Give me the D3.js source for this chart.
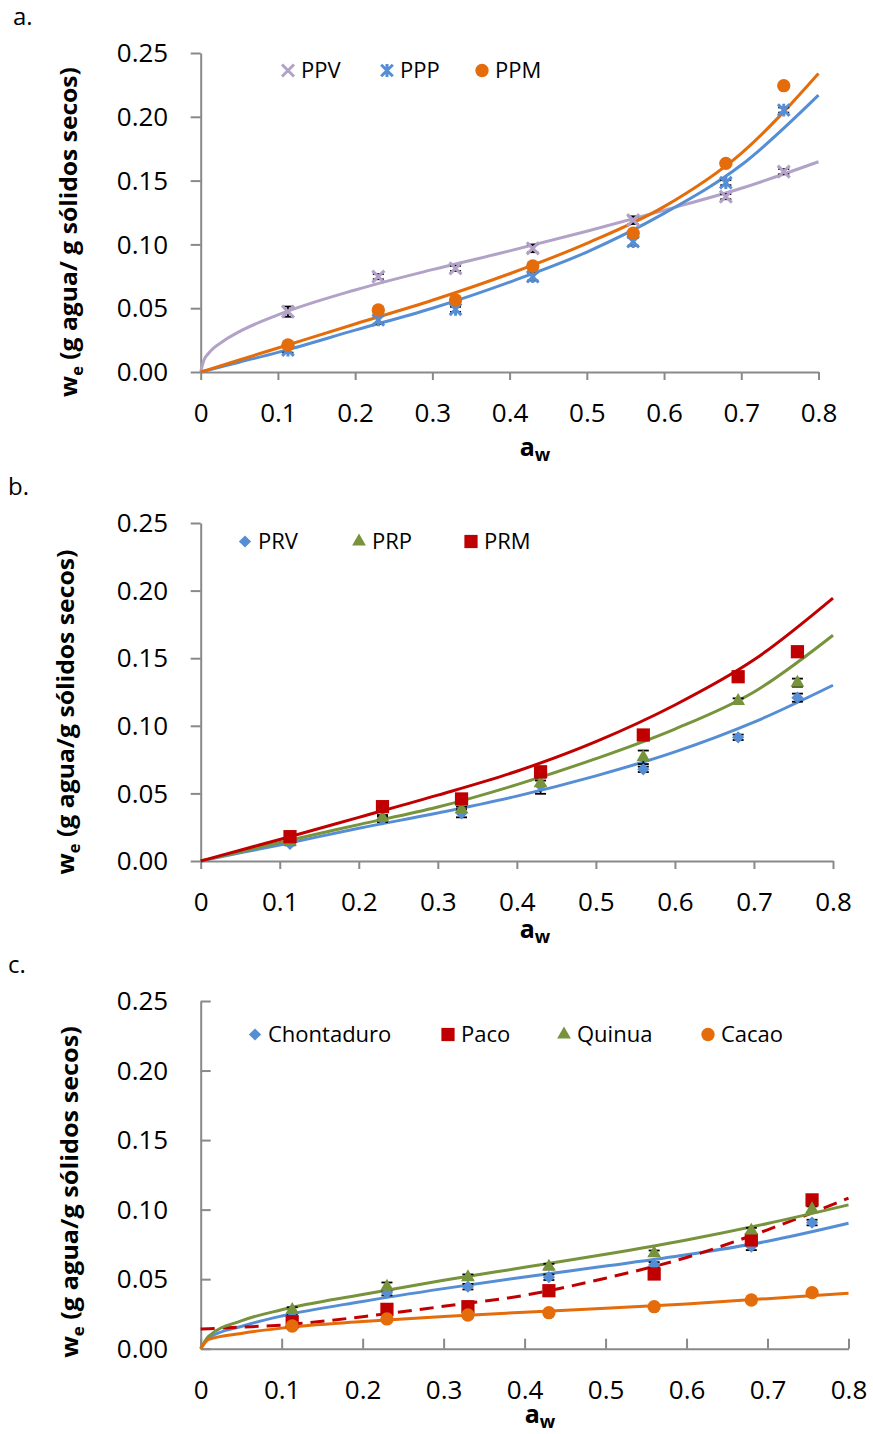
<!DOCTYPE html>
<html>
<head>
<meta charset="utf-8">
<title>Isotermas de sorción</title>
<script src="https://cdn.jsdelivr.net/npm/d3@7"></script>
<style>
    body { margin: 0; background: #fff; }
    svg text { font-family: "Open Sans", sans-serif; fill: #000; }
    .axis path, .axis line { stroke: #898989; stroke-width: 2; }
</style>
</head>
<body>
<svg width="873" height="1434"></svg>
<script>
    // water activity of the salt solutions (same in every panel)
    var aw = [0.113, 0.23, 0.33, 0.43, 0.56, 0.68, 0.755];

    // panel a : experimental points
    var ppv = [0.0473, 0.0747, 0.0812, 0.0969, 0.1190, 0.1374, 0.1570];
    var ppp = [0.0172, 0.0408, 0.0491, 0.0747, 0.1021, 0.1484, 0.2053];
    var ppm = [0.0212, 0.0486, 0.0564, 0.0831, 0.1087, 0.1635, 0.2244];
    var ppvErr = [0.004, 0.002, 0.002, 0.003, 0.003, 0.002, 0.002];
    var pppErr = [0.002, 0.003, 0.002, 0.003, 0.003, 0.002, 0.002];
    var ppmErr = [0.001, 0.001, 0.001, 0.001, 0.001, 0.001, 0.001];

    // panel b : experimental points
    var prv = [0.0126, 0.0308, 0.0353, 0.0557, 0.0678, 0.0915, 0.1208];
    var prp = [0.0143, 0.0320, 0.0382, 0.0575, 0.0767, 0.1183, 0.1319];
    var prm = [0.0180, 0.0402, 0.0459, 0.0660, 0.0932, 0.1363, 0.1548];
    var prvErr = [0.001, 0.002, 0.003, 0.006, 0.002, 0.002, 0.003];
    var prpErr = [0.001, 0.002, 0.002, 0.002, 0.005, 0.002, 0.003];
    var prmErr = [0.001, 0.001, 0.001, 0.001, 0.001, 0.001, 0.001];

    // panel c : experimental points
    var chontaduro = [0.0230, 0.0403, 0.0446, 0.0514, 0.0602, 0.0734, 0.0907];
    var paco = [0.0194, 0.0283, 0.0302, 0.0417, 0.0537, 0.0782, 0.1070];
    var quinua = [0.0278, 0.0446, 0.0514, 0.0590, 0.0686, 0.0849, 0.1003];
    var cacao = [0.0163, 0.0214, 0.0242, 0.0259, 0.0302, 0.0350, 0.0403];
    var chontaduroErr = [0.002, 0.002, 0.002, 0.002, 0.002, 0.0025, 0.002];
    var pacoErr = [0.002, 0.002, 0.002, 0.002, 0.002, 0.003, 0.003];
    var quinuaErr = [0.002, 0.003, 0.002, 0.002, 0.002, 0.002, 0.002];
    var cacaoErr = [0.001, 0.001, 0.001, 0.001, 0.001, 0.001, 0.001];

    // fitted curves
    var fitAw = [0, 0.01, 0.05, 0.1, 0.2, 0.3, 0.4, 0.5, 0.6, 0.7, 0.8];
    var ppvAw = [0, 0.004, 0.01, 0.03, 0.05, 0.1, 0.2, 0.3, 0.4, 0.5, 0.6, 0.7, 0.8];
    var ppvFit = [0, 0.009, 0.0145, 0.0245, 0.0316, 0.0448, 0.0643, 0.0802, 0.0949, 0.1103, 0.1267, 0.1440, 0.1648];
    var pppFit = [0, 0.0015, 0.0077, 0.0154, 0.0328, 0.0500, 0.0705, 0.0940, 0.1243, 0.1622, 0.2170];
    var ppmFit = [0, 0.0019, 0.0094, 0.0188, 0.0376, 0.0562, 0.0770, 0.1008, 0.1296, 0.1714, 0.2340];
    var prvFit = [0, 0.0012, 0.0060, 0.0119, 0.0242, 0.0355, 0.0480, 0.0630, 0.0807, 0.1027, 0.1300];
    var prpFit = [0, 0.0014, 0.0068, 0.0137, 0.0269, 0.0399, 0.0565, 0.0757, 0.0976, 0.1250, 0.1670];
    var prmFit = [0, 0.0016, 0.0080, 0.0159, 0.0323, 0.0487, 0.0664, 0.0883, 0.1154, 0.1488, 0.1945];
    var chontaduroFit = [0, 0.0078, 0.0160, 0.0235, 0.0340, 0.0432, 0.0516, 0.0594, 0.0675, 0.0773, 0.0902];
    var pacoFit = [0.0142, 0.0144, 0.0155, 0.0170, 0.0230, 0.0305, 0.0384, 0.0507, 0.0656, 0.0855, 0.1082];
    var quinuaFit = [0, 0.0090, 0.0200, 0.0280, 0.0390, 0.0492, 0.0585, 0.0679, 0.0782, 0.0900, 0.1034];
    var cacaoFit = [0, 0.0067, 0.0110, 0.0148, 0.0195, 0.0232, 0.0262, 0.0290, 0.0322, 0.0360, 0.0398];

    // axis ticks
    var xTicks = [0, 0.1, 0.2, 0.3, 0.4, 0.5, 0.6, 0.7, 0.8];
    var yTicks = [0, 0.05, 0.10, 0.15, 0.20, 0.25];

    var lavender = "#b3a2c7", blue = "#558ed5", orange = "#e46c0a",
        green = "#77933c", red = "#c00000";

    // marker shapes not in d3 (Excel style x, star, square diamond)
    var symTimes = { draw: function(c, size) {
        var r = Math.sqrt(size) / 2;
        c.moveTo(-r, -r); c.lineTo(r, r); c.moveTo(r, -r); c.lineTo(-r, r);
    }};
    var symStar = { draw: function(c, size) {
        var r = Math.sqrt(size) / 2;
        c.moveTo(-r, -r); c.lineTo(r, r); c.moveTo(r, -r); c.lineTo(-r, r);
        c.moveTo(0, -r * 1.1); c.lineTo(0, r * 1.1);
    }};
    var symDiamond = { draw: function(c, size) {
        var r = Math.sqrt(size) / 2;
        c.moveTo(0, -r); c.lineTo(r, 0); c.lineTo(0, r); c.lineTo(-r, 0); c.closePath();
    }};
    var markers = {
        times:    { type: symTimes, size: 144, stroke: true },
        star:     { type: symStar, size: 135, stroke: true },
        circle:   { type: d3.symbolCircle, size: 140 },
        square:   { type: d3.symbolSquare, size: 175 },
        diamond:  { type: symDiamond, size: 150 },
        triangle: { type: d3.symbolTriangle, size: 82 }
    };

    var svg = d3.select("svg");

    function drawMarker(g, kind, color, cx, cy) {
        var m = markers[kind];
        var p = g.append("path")
            .attr("d", d3.symbol().type(m.type).size(m.size)())
            .attr("transform", "translate(" + cx + "," + cy + ")");
        if (m.stroke) p.attr("fill", "none").attr("stroke", color).attr("stroke-width", 3);
        else p.attr("fill", color);
    }

    function drawPanel(p) {
        var g = svg.append("g");
        var x = d3.scaleLinear().domain([0, 0.8]).range([p.left, p.right]);
        var y = d3.scaleLinear().domain([0, 0.25]).range([p.bottom, p.top]);

        var xAxis = d3.axisBottom(x).tickValues(xTicks)
            .tickFormat(function(d) { return d === 0 ? "0" : d3.format(".1f")(d); })
            .tickSizeOuter(0).tickSizeInner(p.inside ? -10 : 8);
        var yAxis = d3.axisLeft(y).tickValues(yTicks).tickFormat(d3.format(".2f"))
            .tickSizeOuter(0).tickSizeInner(p.inside ? -10 : 10);

        var gx = g.append("g").attr("class", "axis")
            .attr("transform", "translate(0," + p.bottom + ")").call(xAxis);
        gx.selectAll("text").attr("y", 50).attr("dy", 0)
            .style("font-size", "26px").attr("fill", "#000");
        var gy = g.append("g").attr("class", "axis")
            .attr("transform", "translate(" + p.left + ",0)").call(yAxis);
        gy.selectAll("text").attr("x", -32.5).attr("dy", 8.6)
            .style("font-size", "26px").attr("fill", "#000");
        g.selectAll(".axis .domain").attr("stroke", "#898989");
        g.selectAll(".axis .tick line").attr("stroke", "#898989");

        // fitted curves
        p.series.forEach(function(s) {
            var pts = s.fitX.map(function(v, i) { return [v, s.fit[i]]; });
            g.append("path")
                .datum(pts)
                .attr("fill", "none")
                .attr("stroke", s.color)
                .attr("stroke-width", 3)
                .attr("stroke-dasharray", s.dashed ? "14,8" : null)
                .attr("d", d3.line()
                    .x(function(d) { return x(d[0]); })
                    .y(function(d) { return y(d[1]); })
                    .curve(d3.curveMonotoneX));
        });

        // error bars
        p.series.forEach(function(s) {
            var eb = g.append("g").attr("stroke", "#000").attr("stroke-width", 1.8);
            aw.forEach(function(a, i) {
                var cx = x(a), y0 = y(s.values[i] - s.err[i]), y1 = y(s.values[i] + s.err[i]);
                eb.append("line").attr("x1", cx).attr("x2", cx).attr("y1", y0).attr("y2", y1);
                eb.append("line").attr("x1", cx - 5.5).attr("x2", cx + 5.5).attr("y1", y0).attr("y2", y0);
                eb.append("line").attr("x1", cx - 5.5).attr("x2", cx + 5.5).attr("y1", y1).attr("y2", y1);
            });
        });

        // markers
        p.series.forEach(function(s) {
            aw.forEach(function(a, i) {
                drawMarker(g, s.marker, s.color, x(a), y(s.values[i]));
            });
        });

        // legend
        p.series.forEach(function(s) {
            drawMarker(g, s.marker, s.color, s.legX, p.legY - 7.5);
            g.append("text").attr("x", s.legX + 13).attr("y", p.legY)
                .style("font-size", "22px").text(s.name);
        });

        // panel letter
        g.append("text").attr("x", p.letterX).attr("y", p.letterY)
            .style("font-size", "24px").text(p.letter);

        // x title
        var xt = g.append("text").attr("x", p.xTitleX).attr("y", p.xTitleY)
            .attr("text-anchor", "middle").style("font-weight", "bold").style("font-size", "25px");
        xt.append("tspan").text("a");
        xt.append("tspan").attr("dy", 5).style("font-size", "18px").text("w");

        // y title, squeezed to the length it has in the figure
        var yt = g.append("text").attr("text-anchor", "middle")
            .style("font-weight", "bold").style("font-size", "24px");
        yt.append("tspan").text("w");
        yt.append("tspan").attr("dy", 6).style("font-size", "16px").text("e");
        yt.append("tspan").attr("dy", -6).text(p.yTitle);
        var k = p.yTitleLen / yt.node().getComputedTextLength();
        yt.attr("transform", "translate(" + p.yTitleX + "," + p.yTitleY + ") rotate(-90) scale(" + k + ",1)");
    }

    drawPanel({
        letter: "a.", letterX: 13, letterY: 25,
        left: 200.7, right: 818.5, top: 53, bottom: 372, inside: false,
        xTitleX: 535, xTitleY: 456,
        yTitle: " (g agua/ g sólidos secos)", yTitleX: 77, yTitleY: 232, yTitleLen: 330,
        legY: 78,
        series: [
            { name: "PPV", values: ppv, err: ppvErr, fitX: ppvAw, fit: ppvFit, color: lavender, marker: "times", legX: 288 },
            { name: "PPP", values: ppp, err: pppErr, fitX: fitAw, fit: pppFit, color: blue, marker: "star", legX: 387 },
            { name: "PPM", values: ppm, err: ppmErr, fitX: fitAw, fit: ppmFit, color: orange, marker: "circle", legX: 482 }
        ]
    });

    drawPanel({
        letter: "b.", letterX: 8, letterY: 495,
        left: 200.7, right: 833, top: 523, bottom: 861, inside: false,
        xTitleX: 535, xTitleY: 938,
        yTitle: " (g agua/g sólidos secos)", yTitleX: 74, yTitleY: 712, yTitleLen: 325,
        legY: 549,
        series: [
            { name: "PRV", values: prv, err: prvErr, fitX: fitAw, fit: prvFit, color: blue, marker: "diamond", legX: 245 },
            { name: "PRP", values: prp, err: prpErr, fitX: fitAw, fit: prpFit, color: green, marker: "triangle", legX: 359 },
            { name: "PRM", values: prm, err: prmErr, fitX: fitAw, fit: prmFit, color: red, marker: "square", legX: 471 }
        ]
    });

    drawPanel({
        letter: "c.", letterX: 8, letterY: 973,
        left: 200.7, right: 848.5, top: 1001, bottom: 1348.7, inside: true,
        xTitleX: 540, xTitleY: 1423,
        yTitle: "  (g agua/g sólidos secos)", yTitleX: 78, yTitleY: 1192, yTitleLen: 332,
        legY: 1042,
        series: [
            { name: "Chontaduro", values: chontaduro, err: chontaduroErr, fitX: fitAw, fit: chontaduroFit, color: blue, marker: "diamond", legX: 255 },
            { name: "Paco", values: paco, err: pacoErr, fitX: fitAw, fit: pacoFit, color: red, marker: "square", legX: 448, dashed: true },
            { name: "Quinua", values: quinua, err: quinuaErr, fitX: fitAw, fit: quinuaFit, color: green, marker: "triangle", legX: 564 },
            { name: "Cacao", values: cacao, err: cacaoErr, fitX: fitAw, fit: cacaoFit, color: orange, marker: "circle", legX: 708 }
        ]
    });
</script>
</body>
</html>
